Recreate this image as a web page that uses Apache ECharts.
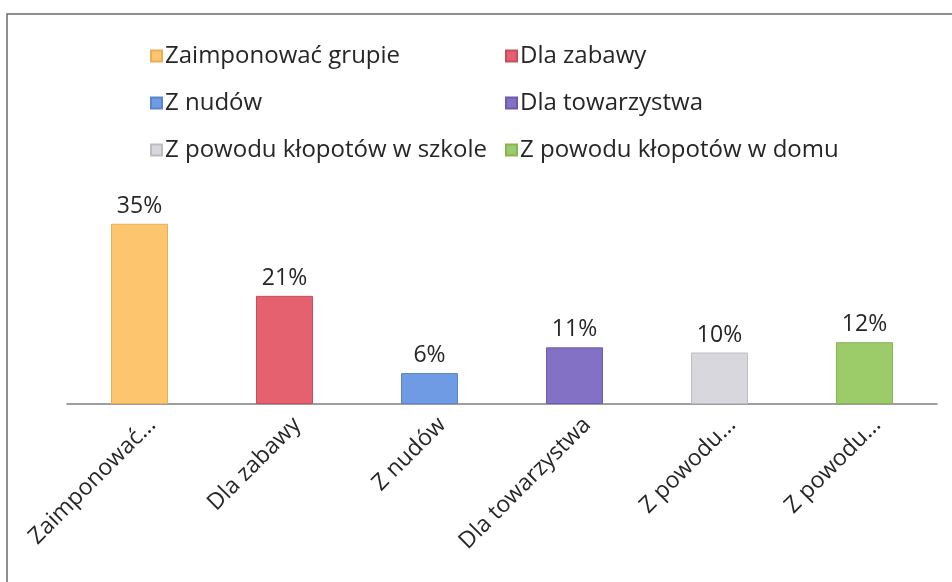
<!DOCTYPE html>
<html>
<head>
<meta charset="utf-8">
<script src="https://cdn.jsdelivr.net/npm/echarts@6/dist/echarts.min.js"></script>
<style>
  html, body { margin: 0; padding: 0; background: #fff; }
  #main { width: 952px; height: 582px; }
</style>
</head>
<body>
<div id="main"></div>
<script>
// dane z wykresu
var categories = ['Zaimponować grupie', 'Dla zabawy', 'Z nudów', 'Dla towarzystwa',
    'Z powodu kłopotów w szkole', 'Z powodu kłopotów w domu'];
var tickLabels = ['Zaimponować...', 'Dla zabawy', 'Z nudów', 'Dla towarzystwa', 'Z powodu...', 'Z powodu...'];
var values = [35, 21, 6, 11, 10, 12];
var colors = ['#FDC56D', '#E5616F', '#6E9BE3', '#8371C6', '#D8D7DD', '#9CCB6A'];
var borders = ['#E6AE55', '#C94D5B', '#5A85CC', '#6D5BB0', '#BDBCC3', '#86B555'];

var font = '"Open Sans", Lato, sans-serif';

var chart = echarts.init(document.getElementById('main'));

// jedna seria na kategorię, żeby legenda miała 6 pozycji
var series = categories.map(function (name, i) {
    var data = values.map(function (v, j) { return j === i ? v : '-'; });
    return {
        name: name,
        type: 'bar',
        data: data,
        barWidth: 57,
        barGap: '-100%',
        itemStyle: { color: colors[i], borderColor: borders[i], borderWidth: 1 },
        label: {
            show: true,
            position: 'top',
            distance: 6,
            formatter: '{c}%',
            fontFamily: font,
            fontSize: 23,
            color: '#262626'
        }
    };
});

var legendBase = {
    orient: 'vertical',
    itemWidth: 11,
    itemHeight: 11,
    itemGap: 23,
    icon: 'rect',
    textStyle: { fontFamily: font, fontSize: 24, color: '#262626', padding: [0, 0, 0, -2] }
};

chart.setOption({
    animation: false,
    graphic: [{
        type: 'rect',
        shape: { x: 7, y: 14, width: 1000, height: 700 },
        style: { fill: 'none', stroke: '#6a6a6a', lineWidth: 1.5 }
    }],
    legend: [
        Object.assign({ left: 145, top: 39, data: [categories[0], categories[2], categories[4]] }, legendBase),
        Object.assign({ left: 500, top: 39, data: [categories[1], categories[3], categories[5]] }, legendBase)
    ],
    grid: { left: 67, right: 15, top: 198, bottom: 178, containLabel: false },
    xAxis: {
        type: 'category',
        data: tickLabels,
        axisLine: { lineStyle: { color: '#7f7f7f', width: 1.5 } },
        axisTick: { show: false },
        axisLabel: {
            rotate: 45,
            interval: 0,
            margin: 30,
            padding: [0, -18, 0, 0],
            fontFamily: font,
            fontSize: 23,
            color: '#262626'
        }
    },
    yAxis: {
        type: 'value',
        min: 0,
        max: 40,
        show: false,
        splitLine: { show: false }
    },
    series: series
});
</script>
</body>
</html>
